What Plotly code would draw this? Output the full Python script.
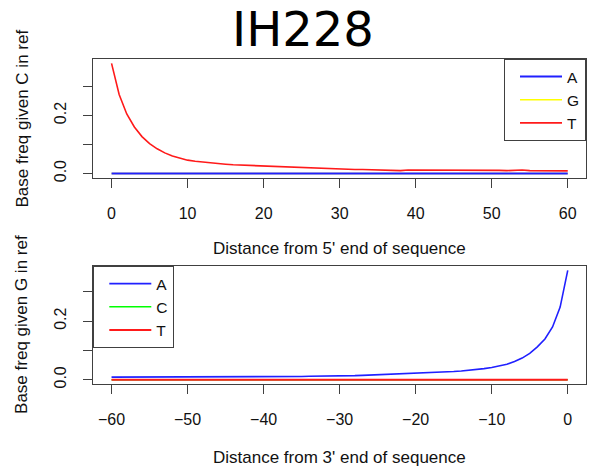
import plotly.graph_objects as go

# Positions along the read
pos_5p = list(range(0, 61))
pos_3p = list(range(-60, 1))

# 5' end: base frequencies given C in the reference
c_to_t = [0.379, 0.272, 0.205, 0.160, 0.127, 0.103, 0.085, 0.071, 0.060, 0.052,
          0.046, 0.042, 0.039, 0.036, 0.034, 0.032, 0.030, 0.029, 0.027, 0.026,
          0.024, 0.023, 0.022, 0.021, 0.020, 0.019, 0.018, 0.018, 0.017, 0.016,
          0.016, 0.015, 0.014, 0.014, 0.013, 0.013, 0.013, 0.012, 0.010, 0.012,
          0.012, 0.011, 0.011, 0.011, 0.011, 0.013, 0.011, 0.012, 0.011, 0.011,
          0.011, 0.011, 0.010, 0.012, 0.012, 0.010, 0.010, 0.011, 0.010, 0.010,
          0.009]
c_to_a = [0.0, 0.0, 0.0, 0.0, 0.0, 0.0, 0.0, 0.0, 0.0, 0.0,
          0.0, 0.0, 0.0, 0.0, 0.0, 0.0, 0.0, 0.0, 0.0, 0.0,
          0.0, 0.0, 0.0, 0.0, 0.0, 0.0, 0.0, 0.0, 0.0, 0.0,
          0.0, 0.0, 0.0, 0.0, 0.0, 0.0, 0.0, 0.0, 0.0, 0.0,
          0.0, 0.0, 0.0, 0.0, 0.0, 0.0, 0.0, 0.0, 0.0, 0.0,
          0.0, 0.0, 0.0, 0.0, 0.0, 0.0, 0.0, 0.0, 0.0, 0.0,
          0.0]
c_to_g = [0.0, 0.0, 0.0, 0.0, 0.0, 0.0, 0.0, 0.0, 0.0, 0.0,
          0.0, 0.0, 0.0, 0.0, 0.0, 0.0, 0.0, 0.0, 0.0, 0.0,
          0.0, 0.0, 0.0, 0.0, 0.0, 0.0, 0.0, 0.0, 0.0, 0.0,
          0.0, 0.0, 0.0, 0.0, 0.0, 0.0, 0.0, 0.0, 0.0, 0.0,
          0.0, 0.0, 0.0, 0.0, 0.0, 0.0, 0.0, 0.0, 0.0, 0.0,
          0.0, 0.0, 0.0, 0.0, 0.0, 0.0, 0.0, 0.0, 0.0, 0.0,
          0.0]

# 3' end: base frequencies given G in the reference
g_to_a = [0.009, 0.009, 0.009, 0.009, 0.009, 0.009, 0.009, 0.009, 0.009, 0.010,
          0.010, 0.010, 0.010, 0.010, 0.010, 0.010, 0.010, 0.010, 0.010, 0.010,
          0.010, 0.010, 0.010, 0.010, 0.011, 0.011, 0.012, 0.012, 0.012, 0.013,
          0.013, 0.014, 0.014, 0.015, 0.016, 0.017, 0.017, 0.018, 0.019, 0.020,
          0.021, 0.022, 0.024, 0.025, 0.027, 0.028, 0.030, 0.032, 0.035, 0.038,
          0.042, 0.047, 0.053, 0.062, 0.074, 0.090, 0.112, 0.139, 0.180, 0.248,
          0.373]
g_to_c = [0.0, 0.0, 0.0, 0.0, 0.0, 0.0, 0.0, 0.0, 0.0, 0.0,
          0.0, 0.0, 0.0, 0.0, 0.0, 0.0, 0.0, 0.0, 0.0, 0.0,
          0.0, 0.0, 0.0, 0.0, 0.0, 0.0, 0.0, 0.0, 0.0, 0.0,
          0.0, 0.0, 0.0, 0.0, 0.0, 0.0, 0.0, 0.0, 0.0, 0.0,
          0.0, 0.0, 0.0, 0.0, 0.0, 0.0, 0.0, 0.0, 0.0, 0.0,
          0.0, 0.0, 0.0, 0.0, 0.0, 0.0, 0.0, 0.0, 0.0, 0.0,
          0.0]
g_to_t = [0.0, 0.0, 0.0, 0.0, 0.0, 0.0, 0.0, 0.0, 0.0, 0.0,
          0.0, 0.0, 0.0, 0.0, 0.0, 0.0, 0.0, 0.0, 0.0, 0.0,
          0.0, 0.0, 0.0, 0.0, 0.0, 0.0, 0.0, 0.0, 0.0, 0.0,
          0.0, 0.0, 0.0, 0.0, 0.0, 0.0, 0.0, 0.0, 0.0, 0.0,
          0.0, 0.0, 0.0, 0.0, 0.0, 0.0, 0.0, 0.0, 0.0, 0.0,
          0.0, 0.0, 0.0, 0.0, 0.0, 0.0, 0.0, 0.0, 0.0, 0.0,
          0.0]

x_ticks_5p = [0, 10, 20, 30, 40, 50, 60]
x_ticks_3p = [-60, -50, -40, -30, -20, -10, 0]
y_ticks = [0.0, 0.1, 0.2, 0.3]
y_tick_text = ["0.0", "", "0.2", ""]

title_text = "IH228"
xlab_5p = "Distance from 5' end of sequence"
xlab_3p = "Distance from 3' end of sequence"
ylab_c = "Base freq given C in ref"
ylab_g = "Base freq given G in ref"

W, H = 589, 473
FONT = "Liberation Sans, Arial, sans-serif"
AXIS_COL = "#404040"
BLUE, YELLOW, RED, GREEN = "#2020ff", "#ffff00", "#ff1a1a", "#00ff00"


def r_range(values, pad=0.04):
    lo, hi = min(values), max(values)
    d = (hi - lo) * pad
    return [lo - d, hi + d]


def px_x(p):
    return p / W


def px_y(p):
    return 1 - p / H


fig = go.Figure()

curve_w = 1.6   # curves
flat_w = 2.0    # the line drawn on top along the baseline
under_w = 1.5   # baseline series that sit underneath

# top panel: yellow first so blue is drawn over it
fig.add_trace(go.Scatter(x=pos_5p, y=c_to_g, mode="lines", name="G",
                         line=dict(color=YELLOW, width=under_w),
                         legend="legend", legendrank=2, xaxis="x", yaxis="y"))
fig.add_trace(go.Scatter(x=pos_5p, y=c_to_a, mode="lines", name="A",
                         line=dict(color=BLUE, width=flat_w),
                         legend="legend", legendrank=1, xaxis="x", yaxis="y"))
fig.add_trace(go.Scatter(x=pos_5p, y=c_to_t, mode="lines", name="T",
                         line=dict(color=RED, width=curve_w),
                         legend="legend", legendrank=3, xaxis="x", yaxis="y"))

# bottom panel: green first so red is drawn over it
fig.add_trace(go.Scatter(x=pos_3p, y=g_to_c, mode="lines", name="C",
                         line=dict(color=GREEN, width=under_w),
                         legend="legend2", legendrank=2, xaxis="x2", yaxis="y2"))
fig.add_trace(go.Scatter(x=pos_3p, y=g_to_t, mode="lines", name="T",
                         line=dict(color=RED, width=flat_w),
                         legend="legend2", legendrank=3, xaxis="x2", yaxis="y2"))
fig.add_trace(go.Scatter(x=pos_3p, y=g_to_a, mode="lines", name="A",
                         line=dict(color=BLUE, width=curve_w),
                         legend="legend2", legendrank=1, xaxis="x2", yaxis="y2"))

x_dom = [px_x(93.3), px_x(586)]
top_dom = [px_y(179.44), px_y(59.5)]
bot_dom = [px_y(387.4), px_y(268.3)]

common_axis = dict(showline=True, mirror=True, linecolor=AXIS_COL, linewidth=1,
                   ticks="outside", ticklen=9, tickcolor=AXIS_COL, tickwidth=1,
                   showgrid=False, zeroline=False,
                   tickfont=dict(family=FONT, size=16, color="#111111"))

fig.update_layout(
    width=W, height=H, autosize=False,
    margin=dict(l=0, r=0, t=0, b=0),
    paper_bgcolor="white", plot_bgcolor="white",
    showlegend=True,
    xaxis=dict(domain=x_dom, anchor="y", range=r_range(pos_5p),
               tickvals=x_ticks_5p, ticklabelstandoff=12, **common_axis),
    yaxis=dict(domain=top_dom, anchor="x",
               range=r_range(c_to_t + c_to_a + c_to_g),
               tickvals=y_ticks, ticktext=y_tick_text, tickangle=-90,
               ticklabelstandoff=11, **common_axis),
    xaxis2=dict(domain=x_dom, anchor="y2", range=r_range(pos_3p),
                tickvals=x_ticks_3p, ticklabelstandoff=12, **common_axis),
    yaxis2=dict(domain=bot_dom, anchor="x2",
                range=r_range(g_to_a + g_to_c + g_to_t),
                tickvals=y_ticks, ticktext=y_tick_text, tickangle=-90,
                ticklabelstandoff=11, **common_axis),
    legend=dict(x=px_x(586), xanchor="right", y=px_y(59.5), yanchor="top",
                bordercolor=AXIS_COL, borderwidth=1, bgcolor="white",
                font=dict(family=FONT, size=15.5, color="#111111"),
                indentation=10, itemwidth=42, traceorder="normal"),
    legend2=dict(x=px_x(93.3), xanchor="left", y=px_y(268.3), yanchor="top",
                 bordercolor=AXIS_COL, borderwidth=1, bgcolor="white",
                 font=dict(family=FONT, size=15.5, color="#111111"),
                 indentation=10, itemwidth=42, traceorder="normal"),
)

annotations = [
    dict(text=title_text, x=px_x(303), y=px_y(29), xref="paper", yref="paper",
         xanchor="center", yanchor="middle", showarrow=False,
         font=dict(family="DejaVu Sans, Verdana, sans-serif", size=48, color="black")),
    dict(text=xlab_5p, x=px_x(339.5), y=px_y(251), xref="paper", yref="paper",
         xanchor="center", yanchor="middle", showarrow=False,
         font=dict(family=FONT, size=17, color="#111111")),
    dict(text=xlab_3p, x=px_x(339.5), y=px_y(461), xref="paper", yref="paper",
         xanchor="center", yanchor="middle", showarrow=False,
         font=dict(family=FONT, size=17, color="#111111")),
    dict(text=ylab_c, x=px_x(22), y=px_y(119.5), xref="paper", yref="paper",
         xanchor="center", yanchor="middle", showarrow=False, textangle=-90,
         font=dict(family=FONT, size=17, color="#111111")),
    dict(text=ylab_g, x=px_x(22), y=px_y(327.7), xref="paper", yref="paper",
         xanchor="center", yanchor="middle", showarrow=False, textangle=-90,
         font=dict(family=FONT, size=17, color="#111111")),
]
fig.update_layout(annotations=annotations)

fig.write_html("out.html")
